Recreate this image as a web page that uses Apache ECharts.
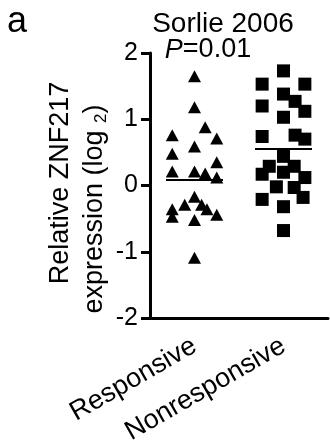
<!DOCTYPE html>
<html>
<head>
<meta charset="utf-8">
<script src="https://cdn.jsdelivr.net/npm/echarts@6/dist/echarts.min.js"></script>
<style>
  html, body { margin: 0; padding: 0; background: #fff; }
  #main { width: 330px; height: 448px; }
</style>
</head>
<body>
<div id="main"></div>
<script>
var categories = ['Responsive', 'Nonresponsive'];
// x offset (jitter, in category widths) and log2 value
var responsiveX = [0, 0, 0.12, -0.25, 0.25, 0, -0.25, -0.25, 0, 0.12, 0.25, 0.25,
  0, -0.11, 0.08, -0.25, 0.14, -0.25, 0, 0.25, 0];
var responsiveY = [1.65, 1.18, 0.88, 0.76, 0.71, 0.59, 0.48, 0.21, 0.21, 0.18, 0.35, 0.12,
  -0.17, -0.29, -0.29, -0.36, -0.36, -0.47, -0.52, -0.44, -1.09];
var nonresponsiveX = [0, -0.24, 0.24, 0, 0.13, -0.24, 0.24, 0, -0.24, 0.13, 0.24, 0,
  -0.16, 0.12, -0.24, 0, 0.24, -0.08, 0.12, -0.24, 0.22, 0, 0];
var nonresponsiveY = [1.73, 1.53, 1.53, 1.38, 1.27, 1.20, 1.12, 1.03, 0.74, 0.76, 0.70, 0.44,
  0.29, 0.29, 0.17, 0.20, 0.12, -0.02, -0.03, -0.21, -0.18, -0.32, -0.68];
var means = [0.09, 0.55];
var yTicks = [-2, -1, 0, 1, 2];

function points(xs, ys, idx) {
  var out = [];
  for (var i = 0; i < ys.length; i++) {
    out.push([idx + 0.5 + xs[i], ys[i]]);
  }
  return out;
}

function meanLine(idx) {
  return [[{coord: [idx + 0.5 - 0.32, means[idx]]}, {coord: [idx + 0.5 + 0.32, means[idx]]}]];
}

var font = 'Liberation Sans, Arial, sans-serif';
var myChart = echarts.init(document.getElementById('main'));

var option = {
  animation: false,
  grid: {left: 150, right: 2, top: 53, bottom: 130},
  xAxis: [{
    type: 'category',
    data: categories,
    boundaryGap: true,
    axisLine: {onZero: false, lineStyle: {color: '#000', width: 3}},
    axisTick: {alignWithLabel: true, length: 10, lineStyle: {color: '#000', width: 3}},
    axisLabel: {rotate: 30, margin: 26, color: '#000', fontSize: 27, fontFamily: font}
  }, {
    type: 'value',
    min: 0,
    max: 2,
    show: false
  }],
  yAxis: {
    type: 'value',
    min: yTicks[0],
    max: yTicks[yTicks.length - 1],
    interval: 1,
    splitLine: {show: false},
    axisLine: {show: true, onZero: false, lineStyle: {color: '#000', width: 3}},
    axisTick: {show: true, length: 9, lineStyle: {color: '#000', width: 3}},
    axisLabel: {margin: 12, color: '#000', fontSize: 25, fontFamily: font}
  },
  graphic: [
    {type: 'text', left: 7, top: 4, style: {text: 'a', font: '36px ' + font, fill: '#000'}},
    {type: 'text', x: 223, y: 24, style: {text: 'Sorlie 2006', font: '28px ' + font, fill: '#000',
      textAlign: 'center', textVerticalAlign: 'middle'}},
    {type: 'text', x: 208, y: 50, style: {
      text: '{i|P}=0.01', textAlign: 'center', textVerticalAlign: 'middle', fill: '#000',
      font: '27px ' + font,
      rich: {i: {fontStyle: 'italic', fontSize: 27, fontFamily: font}}
    }},
    {type: 'text', x: 61, y: 183, rotation: Math.PI / 2, style: {text: 'Relative ZNF217',
      font: '27px ' + font, fill: '#000', textAlign: 'center', textVerticalAlign: 'middle'}},
    {type: 'text', x: 95, y: 209, rotation: Math.PI / 2, style: {
      text: 'expression (log {s|2})', font: '27px ' + font, fill: '#000',
      textAlign: 'center', textVerticalAlign: 'middle',
      rich: {s: {fontSize: 17, fontFamily: font, padding: [12, 0, 0, 0]}}
    }}
  ],
  series: [{
    name: categories[0],
    type: 'scatter',
    xAxisIndex: 1,
    symbol: 'triangle',
    symbolSize: [13, 12],
    itemStyle: {color: '#000', opacity: 1},
    data: points(responsiveX, responsiveY, 0),
    markLine: {
      silent: true,
      symbol: 'none',
      label: {show: false},
      lineStyle: {color: '#000', width: 2, type: 'solid', opacity: 1},
      data: meanLine(0)
    }
  }, {
    name: categories[1],
    type: 'scatter',
    xAxisIndex: 1,
    symbol: 'rect',
    symbolSize: 13,
    itemStyle: {color: '#000', opacity: 1},
    data: points(nonresponsiveX, nonresponsiveY, 1),
    markLine: {
      silent: true,
      symbol: 'none',
      label: {show: false},
      lineStyle: {color: '#000', width: 2, type: 'solid', opacity: 1},
      data: meanLine(1)
    }
  }]
};

myChart.setOption(option);
</script>
</body>
</html>
